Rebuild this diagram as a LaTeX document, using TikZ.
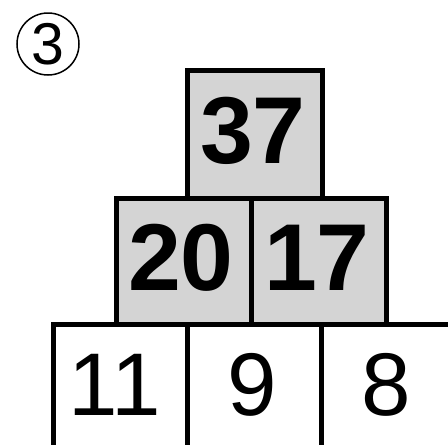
\documentclass[tikz,border=0pt]{standalone}
\usepackage{fontspec}
\setmainfont{Liberation Sans}
\definecolor{cellgray}{RGB}{212,212,212}
\tikzset{
  cellbox/.style={draw=black, line width=5pt, minimum width=135pt, inner sep=0pt, anchor=north west},
  graybox/.style={cellbox, fill=cellgray},
  whitebox/.style={cellbox, fill=white},
  boldnum/.style={inner sep=0pt, font=\fontsize{95}{95}\selectfont\bfseries},
  plainnum/.style={inner sep=0pt, font=\fontsize{89}{89}\selectfont}
}
\begin{document}
\begin{tikzpicture}[x=1pt,y=-1pt]
\useasboundingbox (0,0) rectangle (448,445);
\begin{scope}
\clip (0,0) rectangle (448,445);
% bottom row
\node[whitebox, minimum height=127pt] (b1) at (50.5,321.5) {};
\node[whitebox, minimum height=127pt] (b2) at (184.5,321.5) {};
\node[whitebox, minimum height=127pt] (b3) at (319,321.5) {};
% middle row
\node[graybox, minimum height=126pt] (m1) at (113.5,195.5) {};
\node[graybox, minimum height=126pt] (m2) at (249,195.5) {};
% top
\node[graybox, minimum height=128pt] (t1) at (184.5,67.5) {};
\end{scope}
\node[boldnum] (n37) at (253,131) {37};
\node[boldnum] (n20) at (181,257.5) {20};
\node[boldnum] (n17) at (317,257.5) {17};
\node[plainnum] (n11) at (115,385) {11};
\node[plainnum] (n9) at (252,385) {9};
\node[plainnum] (n8) at (386,385) {8};
% circled 3
\node[draw=black, line width=1.5pt, circle, minimum size=62pt, inner sep=0pt] (c3) at (48,44) {};
\node[inner sep=0pt, font=\fontsize{59}{59}\selectfont] (d3) at (c3.center) {3};
\end{tikzpicture}
\end{document}
